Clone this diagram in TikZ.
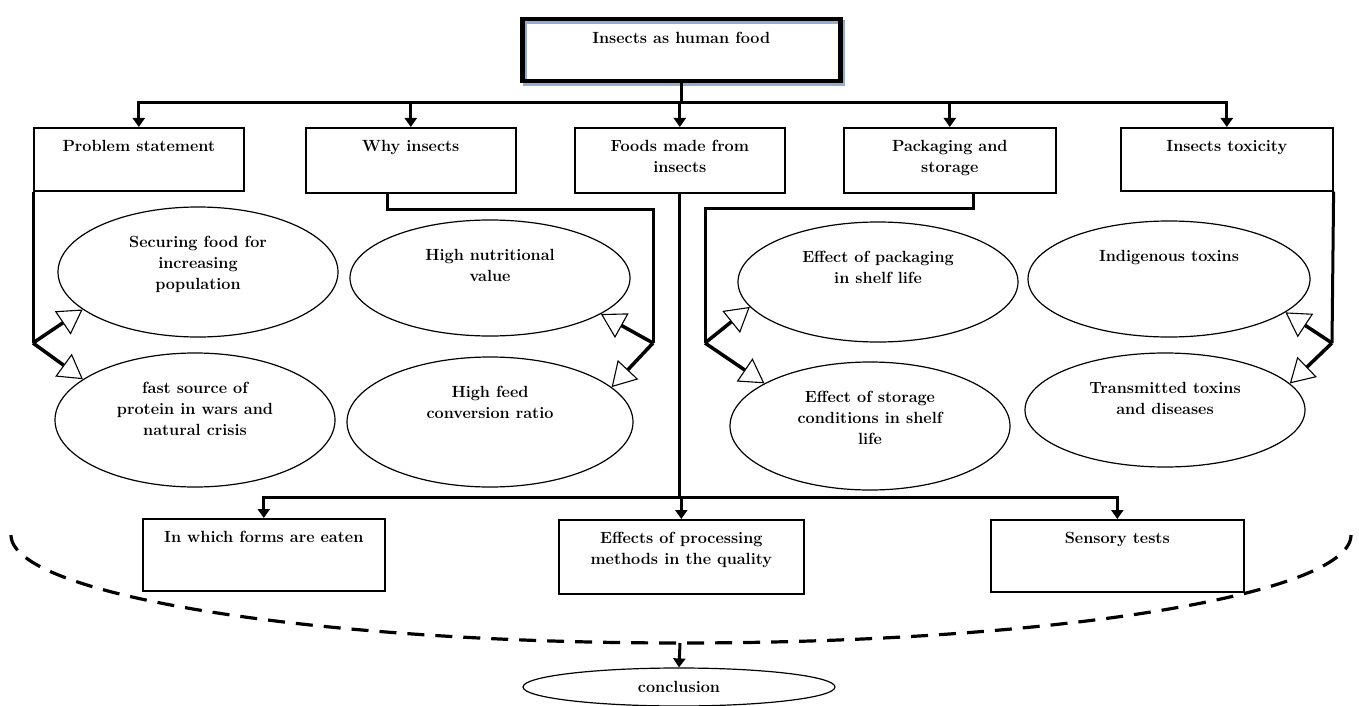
\documentclass[tikz,border=0pt]{standalone}
\usetikzlibrary{arrows.meta,shapes.geometric,calc}
\definecolor{shadowblue}{RGB}{150,172,205}
\newcommand{\tl}[1]{\begin{tabular}[t]{@{}c@{}}#1\end{tabular}}
\begin{document}
\begin{tikzpicture}[x=1pt,y=-1pt,
  every node/.style={font=\fontsize{16.2}{21}\selectfont\bfseries},
  box/.style={draw, line width=1.6pt, anchor=north west, inner xsep=2pt, inner ysep=0pt, text height=24pt},
  ell/.style={draw, ellipse, line width=1.2pt, inner sep=0pt, text height=10pt},
  line/.style={line width=3pt},
  arr/.style={line width=3pt, -{Triangle[length=9pt,width=12pt]}},
  oarr/.style={line width=3.5pt, -{Triangle[length=24pt,width=28pt,fill=white,line width=1.1pt]}},
  dashcurve/.style={line width=3.2pt, dash pattern=on 17pt off 11pt}
]
\useasboundingbox (0,0) rectangle (1359,706);
\fill[white] (0,0) rectangle (1359,706);

% top node
\node[box, line width=4.5pt, minimum width=318pt, text depth=38pt,
  preaction={draw=shadowblue, line width=4pt, transform canvas={shift={(2.5pt,-2.5pt)}}}]
  (top) at (520,17) {Insects as human food};

% first row boxes
\node[box, minimum width=210pt, text depth=39pt] (ps) at (33,127) {Problem statement};
\node[box, minimum width=210pt, text depth=41pt] (why) at (305,127) {Why insects};
\node[box, minimum width=210pt, text depth=41pt] (foods) at (574,127) {\tl{Foods made from\\insects}};
\node[box, minimum width=212pt, text depth=41pt] (pack) at (843,127) {\tl{Packaging and\\storage}};
\node[box, minimum width=212pt, text depth=39pt] (tox) at (1120,127) {Insects toxicity};

% ellipses
\node[ell, minimum width=280pt, minimum height=130pt, text depth=60pt] (sec) at (198,272) {\tl{Securing food for\\increasing\\population}};
\node[ell, minimum width=280pt, minimum height=116pt, text depth=46pt] (nut) at (490,278) {\tl{High nutritional\\value}};
\node[ell, minimum width=280pt, minimum height=120pt, text depth=50pt] (pkg) at (878,282) {\tl{Effect of packaging\\in shelf life}};
\node[ell, minimum width=282pt, minimum height=116pt, text depth=46pt] (ind) at (1169,279) {Indigenous toxins};
\node[ell, minimum width=280pt, minimum height=134pt, text depth=64pt] (fast) at (195,420) {\tl{fast source of\\protein in wars and\\natural crisis}};
\node[ell, minimum width=286pt, minimum height=130pt, text depth=60pt] (feed) at (490,422) {\tl{High feed\\conversion ratio}};
\node[ell, minimum width=280pt, minimum height=128pt, text depth=58pt] (stor) at (870,426) {\tl{Effect of storage\\conditions in shelf\\life}};
\node[ell, minimum width=280pt, minimum height=114pt, text depth=44pt] (trans) at (1165,410) {\tl{Transmitted toxins\\and diseases}};

% second row boxes
\node[box, minimum width=242pt, text depth=48pt] (form) at (142,518) {In which forms are eaten};
\node[box, minimum width=245pt, text depth=50pt] (proc) at (558,519) {\tl{Effects of processing\\methods in the quality}};
\node[box, minimum width=253pt, text depth=48pt] (sens) at (990,519) {Sensory tests};

% conclusion
\node[ell, minimum width=312pt, minimum height=38pt, text depth=0pt] (concl) at (679,687) {conclusion};

% coordinates
\coordinate (bus) at (0,103);
\coordinate (bus2) at (0,497);
\coordinate (psj) at (33,343);
\coordinate (whyc) at (653,209);
\coordinate (whyj) at (653,343);
\coordinate (packc) at (705,208);
\coordinate (packj) at (705,343);
\coordinate (toxj) at (1332,343);
\coordinate (dbot) at (680,643);

% top connectors
\draw[line] (top.south) -- (top.south |- bus);
\draw[line, line cap=rect] (ps.north |- bus) -- (tox.north |- bus);
\foreach \n in {ps,why,foods,pack,tox} \draw[arr] (\n.north |- bus) -- (\n.north);

% branch connectors
\draw[line] (ps.south west) -- (psj);
\draw[line] ($(why.south)+(-23,0)$) |- (whyc) -- (whyj);
\draw[line] ($(pack.south)+(24,0)$) |- (packc) -- (packj);
\draw[line] (tox.south east) -- (toxj);

\draw[oarr] (psj) -- (sec.198);
\draw[oarr] (psj) -- (fast.160);
\draw[oarr] (whyj) -- (nut.-18);
\draw[oarr] (whyj) -- (feed.16);
\draw[oarr] (packj) -- (pkg.191);
\draw[oarr] (packj) -- (stor.158);
\draw[oarr] (toxj) -- (ind.-16);
\draw[oarr] (toxj) -- (trans.12);

% foods branch
\draw[line] (foods.south) -- (foods.south |- bus2);
\draw[line, line cap=rect] (form.north |- bus2) -- (sens.north |- bus2);
\foreach \n in {form,proc,sens} \draw[arr] (\n.north |- bus2) -- (\n.north);

% dashed curve and conclusion
\draw[dashcurve] (11,535) arc[start angle=180, end angle=0, x radius=670, y radius=108];
\draw[arr] (dbot) -- (concl.north);
\end{tikzpicture}
\end{document}
